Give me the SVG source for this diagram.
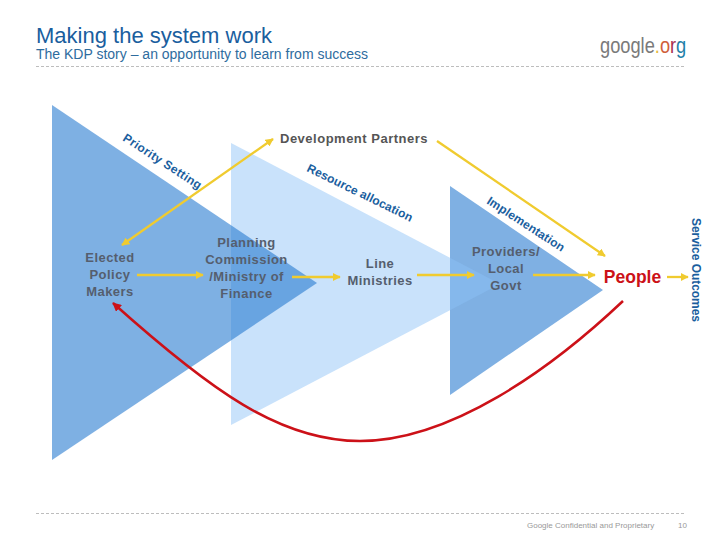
<svg xmlns="http://www.w3.org/2000/svg" width="720" height="540" viewBox="0 0 720 540">
<style>
text{font-family:"Liberation Sans",Arial,sans-serif}
.n{font-size:13px;font-weight:700;fill:#555E6E;text-anchor:middle;letter-spacing:.45px}
.l{font-size:12px;font-weight:700;fill:#1A5E9E}
.y{fill:none;stroke:#F0CB2F;stroke-width:2.300}
.rule{stroke:#BDBDBD;stroke-width:1;stroke-dasharray:3 2}
</style>
<defs>
<marker id="ya" viewBox="0 0 10 10" refX="9" refY="5" markerWidth="8" markerHeight="8" markerUnits="userSpaceOnUse" orient="auto-start-reverse"><path d="M0 0L10 5L0 10Z" fill="#F0CB2F"/></marker>
<marker id="ra" viewBox="0 0 10 10" refX="9" refY="5" markerWidth="9" markerHeight="9" markerUnits="userSpaceOnUse" orient="auto"><path d="M0 0L10 5L0 10Z" fill="#CC1118"/></marker>
</defs>
<rect width="720" height="540" fill="#fff"/>
<g id="header">
<text x="36" y="43" font-size="22" fill="#1A5E9E">Making the system work</text>
<text x="36" y="59" font-size="14" fill="#2E6C9E">The KDP story – an opportunity to learn from success</text>
<text transform="translate(600 53) scale(.83 1)" font-size="22" fill="#7A7A7A">google<tspan fill="#E8B93D">.</tspan><tspan fill="#D0603A">o</tspan><tspan fill="#A8304F">r</tspan><tspan fill="#1F7FA8">g</tspan></text>
<line class="rule" x1="36" y1="66.500" x2="685" y2="66.500"/>
</g>
<g id="tri-3"><polygon points="450,186 603,290 450,395" fill="#7FB0E3"/></g>
<g id="tri-2"><polygon points="231,143 500,284 231,425" fill="#8CC1F7" fill-opacity=".47"/></g>
<g id="tri-1"><polygon points="52,105 317,283 52,460" fill="#287BD0" fill-opacity=".6"/></g>
<g id="connectors">
<path class="y" d="M122 245L273 139" marker-start="url(#ya)" marker-end="url(#ya)"/>
<path class="y" d="M437 141L605 256" marker-end="url(#ya)"/>
<path class="y" d="M137 275H203" marker-end="url(#ya)"/>
<path class="y" d="M292 277H340" marker-end="url(#ya)"/>
<path class="y" d="M417 275H474" marker-end="url(#ya)"/>
<path class="y" d="M533 275H595" marker-end="url(#ya)"/>
<path class="y" d="M667 277H688" marker-end="url(#ya)"/>
<path d="M623 301C550 370 450 441 360 441C280 441 210 390 113 303" fill="none" stroke="#CC1118" stroke-width="2.500" marker-end="url(#ra)"/>
</g>
<g id="node-dev"><text class="n" x="354" y="143" style="letter-spacing:.5px;fill:#555">Development Partners</text></g>
<g id="node-elected"><text class="n" x="110" y="262">Elected</text><text class="n" x="110" y="279">Policy</text><text class="n" x="110" y="296">Makers</text></g>
<g id="node-planning"><text class="n" x="246.500" y="247">Planning</text><text class="n" x="246.500" y="264">Commission</text><text class="n" x="246.500" y="281">/Ministry of</text><text class="n" x="246.500" y="298">Finance</text></g>
<g id="node-line"><text class="n" x="380" y="268">Line</text><text class="n" x="380" y="285">Ministries</text></g>
<g id="node-providers"><text class="n" x="506" y="256">Providers/</text><text class="n" x="506" y="273">Local</text><text class="n" x="506" y="290">Govt</text></g>
<g id="node-people"><text x="632.500" y="283" font-size="17.500" font-weight="700" fill="#CC1118" text-anchor="middle">People</text></g>
<g id="labels">
<text class="l" transform="translate(122 140) rotate(33)" textLength="91" lengthAdjust="spacing">Priority Setting</text>
<text class="l" transform="translate(306 171) rotate(26)" textLength="116" lengthAdjust="spacing">Resource allocation</text>
<text class="l" transform="translate(486 203) rotate(33)" textLength="90" lengthAdjust="spacing">Implementation</text>
<text class="l" transform="translate(691.500 218) rotate(90)" textLength="104" lengthAdjust="spacing">Service Outcomes</text>
</g>
<g id="footer">
<line class="rule" x1="36" y1="513.500" x2="685" y2="513.500"/>
<text x="527" y="528" font-size="8" fill="#999">Google Confidential and Proprietary</text>
<text x="678" y="528" font-size="8" fill="#999">10</text>
</g>
</svg>
